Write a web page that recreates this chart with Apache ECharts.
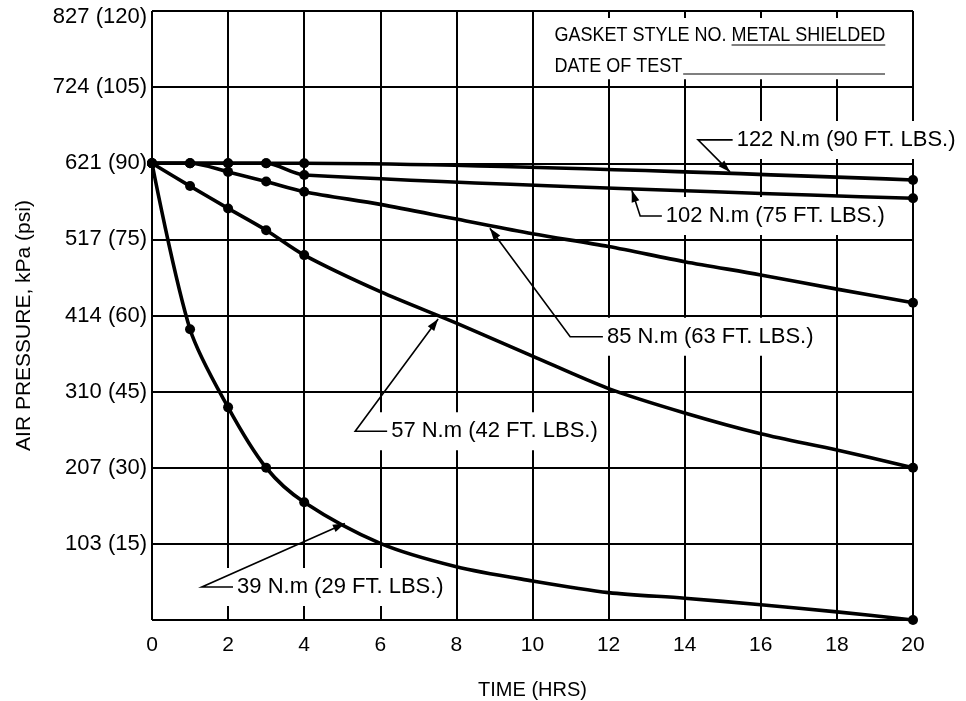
<!DOCTYPE html>
<html><head><meta charset="utf-8">
<script src="https://cdn.jsdelivr.net/npm/echarts@6/dist/echarts.min.js"></script>
<style>html,body{margin:0;padding:0;background:#fff}#c{width:966px;height:701px}</style>
</head><body><div id="c"></div>
<script>
// ---- data ----
const hoursShort = [0, 1, 2, 3, 4, 20];
const hoursLong = [0, 1, 2, 3, 4, 6, 8, 10, 12, 14, 16, 18, 20];
const psi122 = [90, 90, 90, 90, 90, 86.7];
const psi102 = [90, 90, 90, 90, 87.7, 83.1];
const psi85 = [90, 90, 88.3, 86.4, 84.4, 81.9, 79.0, 76.1, 73.6, 70.6, 68.0, 65.2, 62.5];
const psi57 = [90, 85.5, 81.1, 76.8, 71.9, 64.7, 58.5, 52.0, 45.6, 40.8, 36.7, 33.5, 30.0];
const psi39 = [90, 57.3, 41.9, 30.0, 23.2, 15.1, 10.5, 7.7, 5.4, 4.3, 3.0, 1.6, 0];
const markedHours = [0, 1, 2, 3, 4, 20];
const seriesNames = ['122 N.m (90 FT. LBS.)', '102 N.m (75 FT. LBS.)', '85 N.m (63 FT. LBS.)', '57 N.m (42 FT. LBS.)', '39 N.m (29 FT. LBS.)'];
const yTickLabels = ['', '103 (15)', '207 (30)', '310 (45)', '414 (60)', '517 (75)', '621 (90)', '724 (105)', '827 (120)'];
const xTickLabels = ['0', '2', '4', '6', '8', '10', '12', '14', '16', '18', '20'];
const boxLine1a = 'GASKET STYLE NO. ';
const boxLine1b = 'METAL SHIELDED';
const boxLine2 = 'DATE OF TEST';

// ---- annotation anchors (data units: hours, psi) ----
const annotations = [
  { name: seriesNames[0], elbow: [14.35, 94.6], hEnd: [15.26, 94.6], tip: [15.19, 88.3] },
  { name: seriesNames[1], elbow: [12.83, 79.6], hEnd: [13.40, 79.6], tip: [12.61, 84.7] },
  { name: seriesNames[2], elbow: [10.99, 55.8], hEnd: [11.85, 55.8], tip: [8.88, 77.2] },
  { name: seriesNames[3], elbow: [5.34, 37.2], hEnd: [6.18, 37.2], tip: [7.52, 59.3] },
  { name: seriesNames[4], elbow: [1.31, 6.5], hEnd: [2.13, 6.5], tip: [5.07, 19.0] }
];

const FONT = '"Liberation Sans", Arial, Helvetica, sans-serif';
const chart = echarts.init(document.getElementById('c'));

function pairs(h, v) { return h.map((x, i) => [x, v[i]]); }
function mkSeries(name, h, v) {
  return {
    name, type: 'line', data: pairs(h, v), smooth: 0.3,
    symbol: 'circle',
    symbolSize: (val) => markedHours.indexOf(val[0]) >= 0 ? 10 : 0,
    lineStyle: { color: '#000', width: 3.6 },
    itemStyle: { color: '#000' },
    z: 4, animation: false
  };
}

chart.setOption({
  animation: false,
  backgroundColor: '#fff',
  grid: { left: 152, right: 53, top: 11, bottom: 81, outerBoundsMode: 'none', containLabel: false },
  xAxis: {
    type: 'value', min: 0, max: 20, interval: 2,
    name: 'TIME (HRS)', nameLocation: 'middle', nameGap: 60,
    nameTextStyle: { color: '#000', fontSize: 20, fontFamily: FONT },
    axisLine: { show: false }, axisTick: { show: false },
    axisLabel: { color: '#000', fontSize: 21, fontFamily: FONT, margin: 15,
      formatter: (v) => xTickLabels[Math.round(v / 2)] },
    splitLine: { show: true, lineStyle: { color: '#000', width: 2 } }
  },
  yAxis: {
    type: 'value', min: 0, max: 120, interval: 15,
    name: 'AIR PRESSURE, kPa (psi)', nameLocation: 'middle', nameGap: 117, nameRotate: 90,
    nameTextStyle: { color: '#000', fontSize: 21, fontFamily: FONT, padding: [0, 20, 0, 0] },
    axisLine: { show: false }, axisTick: { show: false },
    axisLabel: { color: '#000', fontSize: 22, fontFamily: FONT, margin: 5,
      formatter: (v) => {
        const i = Math.round(v / 15);
        return i === yTickLabels.length - 1 ? '{top|' + yTickLabels[i] + '}' : yTickLabels[i];
      },
      rich: { top: { fontSize: 22, fontFamily: FONT, color: '#000', padding: [12, 0, 0, 0] } } },
    splitLine: { show: true, lineStyle: { color: '#000', width: 2 } }
  },
  series: [
    mkSeries(seriesNames[0], hoursShort, psi122),
    mkSeries(seriesNames[1], hoursShort, psi102),
    mkSeries(seriesNames[2], hoursLong, psi85),
    mkSeries(seriesNames[3], hoursLong, psi57),
    mkSeries(seriesNames[4], hoursLong, psi39)
  ]
});

const P = (pt) => chart.convertToPixel({ gridIndex: 0 }, pt);
const g = [];
const PADL = 12;

// annotation labels with white backgrounds, leaders and arrowheads
annotations.forEach((a) => {
  const e = P(a.elbow), h = P(a.hEnd), t = P(a.tip);
  g.push({ type: 'text', z: 1, x: h[0] + 4 - PADL, y: h[1],
    style: { text: a.name, fill: '#000', font: '22px ' + FONT, verticalAlign: 'middle', align: 'left',
      backgroundColor: '#fff', padding: [8, 4, 8, PADL] } });
  g.push({ type: 'polyline', z: 5, shape: { points: [h, e, t] }, style: { stroke: '#000', lineWidth: 1.6, fill: null } });
  const dx = t[0] - e[0], dy = t[1] - e[1], L = Math.hypot(dx, dy);
  const ux = dx / L, uy = dy / L, nx = -uy, ny = ux, AL = 12, AW = 4;
  g.push({ type: 'polygon', z: 5, shape: { points: [
    [t[0], t[1]],
    [t[0] - AL * ux + AW * nx, t[1] - AL * uy + AW * ny],
    [t[0] - AL * ux - AW * nx, t[1] - AL * uy - AW * ny]] }, style: { fill: '#000' } });
});

// header box
const b1 = P([10, 120]), b2 = P([20, 105]);
g.push({ type: 'rect', z: 1, shape: { x: b1[0] + 1.5, y: b1[1] + 7, width: b2[0] - b1[0] - 3, height: b2[1] - b1[1] - 15 },
  style: { fill: '#fff' } });
const ctx = document.createElement('canvas').getContext('2d');
ctx.font = '20px ' + FONT;
const SX = 0.9;
const tx = b1[0] + 22, ty1 = b1[1] + 24, ty2 = b1[1] + 55;
const wA = ctx.measureText(boxLine1a).width * SX;
const wB = ctx.measureText(boxLine1b).width * SX;
const wD = ctx.measureText(boxLine2).width * SX;
g.push({ type: 'text', z: 5, x: tx, y: ty1, scaleX: SX,
  style: { text: boxLine1a + boxLine1b, fill: '#000', font: '20px ' + FONT, verticalAlign: 'middle', align: 'left' } });
g.push({ type: 'text', z: 5, x: tx, y: ty2, scaleX: SX,
  style: { text: boxLine2, fill: '#000', font: '20px ' + FONT, verticalAlign: 'middle', align: 'left' } });
g.push({ type: 'line', z: 5, shape: { x1: tx + wA, y1: ty1 + 10, x2: tx + wA + wB, y2: ty1 + 10 }, style: { stroke: '#000', lineWidth: 1.2 } });
g.push({ type: 'line', z: 5, shape: { x1: tx + wD + 1, y1: ty2 + 8, x2: b2[0] - 28, y2: ty2 + 8 }, style: { stroke: '#000', lineWidth: 1.2 } });

chart.setOption({ graphic: g });
</script>
</body></html>
